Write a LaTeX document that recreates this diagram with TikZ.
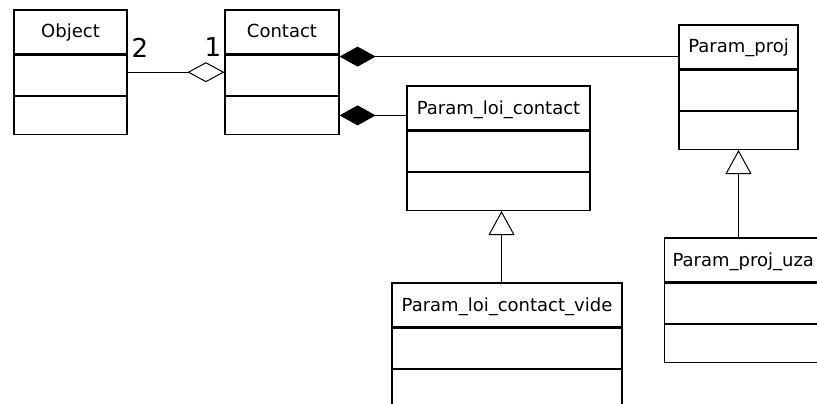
\documentclass[tikz,border=0pt]{standalone}
\usepackage{fontspec}
\setmainfont{DejaVu Sans}
\usetikzlibrary{positioning,arrows.meta}

\begin{document}
\begin{tikzpicture}[x=1pt,y=-1pt,font=\fontsize{18}{20}\selectfont,
      cls/.style={draw,line width=1.2pt,fill=white,inner sep=0pt,minimum height=44,text height=13pt,text depth=1pt},
      cpart/.style={draw,line width=1.2pt,fill=white,inner sep=0pt,minimum height=40},
      mult/.style={font=\fontsize{26}{26}\selectfont,inner sep=0pt},
      agg/.style={line width=1pt,-{Diamond[open,length=37pt,width=20pt]}},
      comp/.style={line width=1pt,-{Diamond[length=36pt,width=20pt]}},
      gen/.style={line width=1pt,-{Triangle[open,length=24pt,width=26pt]}}]
  \useasboundingbox (0,0) rectangle (817,404);
  \node[cls,minimum width=113] (obj1) at (70.5,32) {Object};
  \node[cls,minimum width=114] (con1) at (282,32) {Contact};
  \node[cls,minimum width=183] (ploi1) at (498.5,108) {Param\_loi\_contact};
  \node[cls,minimum width=119] (pproj1) at (738.5,47) {Param\_proj};
  \node[cls,minimum width=230] (vide1) at (507,305) {Param\_loi\_contact\_vide};
  \node[cls,anchor=west,text width=160pt,align=left,inner xsep=8pt] (uza1) at (664,260) {Param\_proj\_uza};
  \foreach \c/\w in {obj/113,con/114,ploi/183,pproj/119,vide/230,uza/176} {
    \node[cpart,minimum width=\w,below=0pt of \c1] (\c2) {};
    \node[cpart,minimum width=\w,minimum height=38,below=0pt of \c2] (\c3) {};
  }
  \node[mult] (m2) at (140,48) {2};
  \node[mult] (m1) at (213,47) {1};
  \coordinate (a1) at ([yshift=3pt]obj2.east);
  \draw[agg] (a1) -- (a1 -| con2.west);
  \coordinate (c1) at ([yshift=-2pt]con1.south east);
  \draw[comp] (c1 -| pproj1.west) -- (c1);
  \draw[comp] (con3.east -| ploi1.west) -- (con3.east);
  \coordinate (g1) at ([xshift=3pt]ploi3.south);
  \draw[gen] (g1 |- vide1.north) -- (g1);
  \draw[gen] (pproj3.south |- uza1.north) -- (pproj3.south);
\end{tikzpicture}
\end{document}
